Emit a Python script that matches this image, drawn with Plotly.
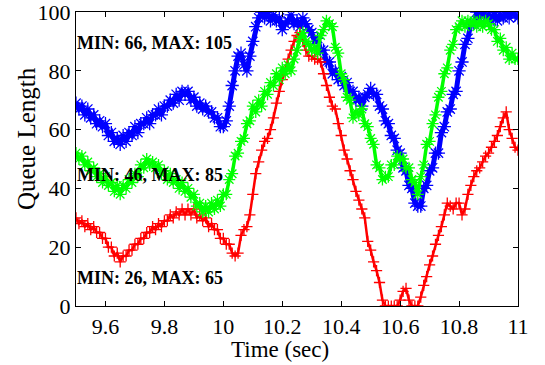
import plotly.graph_objects as go

# time grid (sec), 0.01 s steps from 9.50 to 11.00
time = [round(9.5 + i * 0.01, 2) for i in range(151)]

blue_q = [
    69, 67, 68, 65, 67, 64, 65, 62, 63, 61,
    62, 58, 59, 56, 57, 55, 58, 56, 59, 58,
    61, 59, 62, 62, 64, 62, 65, 65, 67, 65,
    68, 68, 70, 69, 72, 70, 73, 72, 73, 70,
    71, 68, 69, 67, 68, 66, 66, 64, 64, 61,
    61, 63, 68, 75, 80, 85, 86, 82, 80, 85,
    90, 95, 98, 100, 98, 100, 97, 99, 97, 98,
    94, 96, 97, 99, 96, 97, 95, 98, 96, 94,
    93, 90, 91, 87, 87, 83, 83, 79, 80, 77,
    78, 75, 76, 73, 73, 70, 71, 68, 71, 72,
    74, 72, 72, 68, 67, 63, 62, 58, 57, 53,
    52, 47, 46, 41, 40, 35, 34, 34, 40, 41,
    46, 47, 52, 52, 59, 61, 66, 67, 72, 73,
    80, 83, 89, 91, 96, 96, 100, 98, 100, 98,
    99, 97, 100, 97, 99, 98, 100, 98, 100, 99,
    98,
]

green_q = [
    52, 50, 51, 48, 49, 46, 47, 44, 45, 42,
    44, 41, 42, 39, 41, 38, 41, 40, 43, 42,
    45, 44, 48, 47, 50, 48, 49, 47, 48, 45,
    46, 43, 45, 42, 43, 40, 42, 39, 40, 37,
    38, 34, 35, 32, 34, 32, 35, 33, 36, 34,
    38, 38, 43, 45, 51, 52, 56, 57, 62, 63,
    68, 66, 70, 68, 73, 72, 76, 75, 79, 77,
    81, 79, 82, 80, 84, 87, 91, 93, 90, 89,
    87, 88, 86, 92, 94, 97, 96, 95, 88, 86,
    79, 77, 71, 70, 64, 66, 65, 67, 62, 61,
    57, 55, 48, 47, 43, 44, 44, 48, 48, 51,
    50, 50, 47, 47, 43, 42, 38, 44, 48, 55,
    56, 62, 65, 71, 73, 79, 81, 87, 89, 94,
    95, 97, 95, 97, 96, 97, 95, 97, 95, 97,
    96, 94, 94, 90, 91, 87, 88, 84, 86, 84,
    84,
]

red_q = [
    30, 28, 29, 27, 28, 26, 27, 25, 25, 23,
    23, 20, 20, 17, 18, 15, 17, 17, 19, 19,
    21, 21, 23, 23, 25, 25, 27, 26, 28, 27,
    29, 29, 31, 30, 32, 31, 33, 31, 33, 31,
    33, 30, 31, 29, 30, 27, 28, 26, 26, 23,
    23, 21, 21, 18, 17, 18, 24, 26, 27, 31,
    38, 45, 49, 53, 56, 57, 60, 64, 69, 73,
    77, 80, 84, 87, 90, 92, 93, 90, 87, 85,
    85, 84, 84, 83, 79, 75, 71, 68, 67, 62,
    58, 53, 50, 46, 43, 39, 36, 33, 30, 22,
    19, 15, 12, 8, 2, 0, 0, 0, 0, 0,
    2, 5, 6, 2, 0, 0, 0, 3, 7, 10,
    14, 17, 21, 24, 27, 31, 35, 34, 33, 35,
    35, 31, 33, 38, 41, 44, 46, 47, 49, 51,
    52, 54, 56, 58, 61, 64, 66, 60, 57, 54,
    53,
]

labels = ["MIN: 66, MAX: 105", "MIN: 46, MAX: 85", "MIN: 26, MAX: 65"]
label_y = [89.6, 44.6, 9.4]

x_ticks = [9.6, 9.8, 10, 10.2, 10.4, 10.6, 10.8, 11]
y_ticks = [0, 20, 40, 60, 80, 100]

SERIF = "Liberation Serif"

fig = go.Figure()

series = [
    (blue_q, "#0000ff", "asterisk-open", 11, 5),
    (red_q, "#ff0000", "cross-thin-open", 8, 2.5),
    (green_q, "#00ff00", "asterisk-open", 10, 3.5),
]
for vals, col, sym, sz, lw in series:
    fig.add_trace(go.Scatter(
        x=time, y=vals, mode="lines+markers",
        line=dict(color=col, width=lw),
        marker=dict(symbol=sym, size=sz, color=col, line=dict(color=col, width=1.3)),
        showlegend=False,
    ))

for txt, yy in zip(labels, label_y):
    fig.add_annotation(
        x=9.5, y=yy, xref="x", yref="y", text="<b>" + txt + "</b>",
        showarrow=False, xanchor="left", yanchor="middle", xshift=-1,
        font=dict(family=SERIF, size=18, color="black"),
    )

# axis titles
fig.add_annotation(x=0.4615, y=-0.148, xref="paper", yref="paper", text="Time (sec)",
                   showarrow=False, xanchor="center", yanchor="middle",
                   font=dict(family=SERIF, size=23, color="black"))
fig.add_annotation(x=-0.113, y=0.568, xref="paper", yref="paper", text="Queue Length",
                   showarrow=False, xanchor="center", yanchor="middle", textangle=-90,
                   font=dict(family=SERIF, size=25, color="black"))

axis_common = dict(
    showgrid=False, zeroline=False, showline=True, linecolor="black",
    linewidth=1.2, mirror="ticks", ticks="inside", ticklen=5, tickcolor="black",
    tickwidth=1, automargin=False, ticklabeloverflow="allow",
    tickfont=dict(family=SERIF, size=22, color="black"),
)

fig.update_xaxes(range=[9.5, 11], tickvals=x_ticks, ticktext=[str(v) for v in x_ticks],
                 **axis_common)
fig.update_yaxes(range=[0, 100], tickvals=y_ticks, **axis_common)

fig.update_layout(
    width=545, height=365,
    margin=dict(l=76, r=27, t=12, b=59),
    plot_bgcolor="white", paper_bgcolor="white",
)

fig.write_html("out.html", config={"displayModeBar": False},
               post_script="document.body.style.margin='0';")
